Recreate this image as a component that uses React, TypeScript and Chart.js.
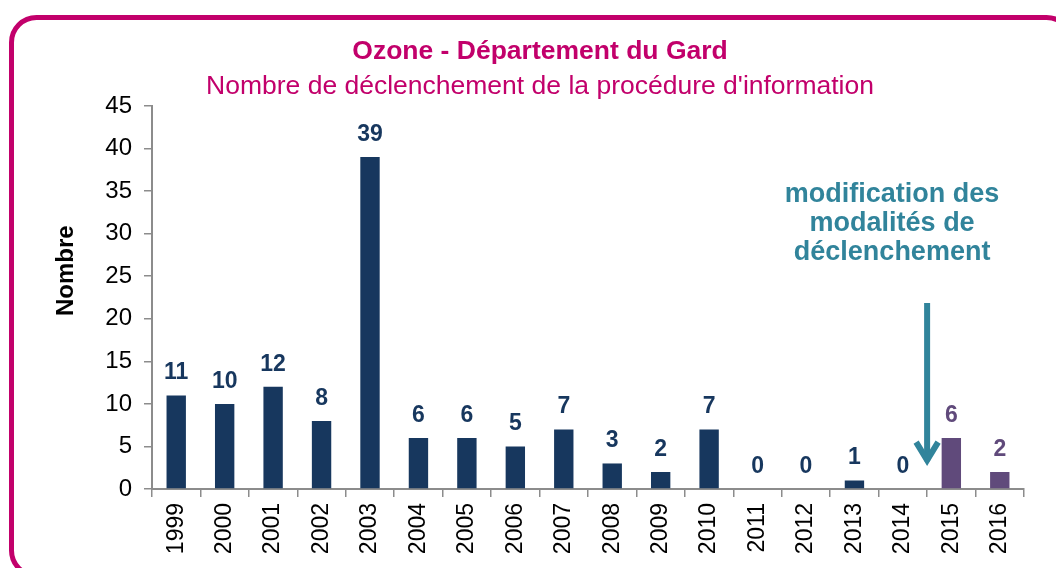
import { useEffect, useRef } from 'react';
import { Chart, registerables } from 'chart.js';

Chart.register(...registerables);

// ---- data ----
const years = ['1999', '2000', '2001', '2002', '2003', '2004', '2005', '2006', '2007', '2008', '2009', '2010', '2011', '2012', '2013', '2014', '2015', '2016'];
const counts = [11, 10, 12, 8, 39, 6, 6, 5, 7, 3, 2, 7, 0, 0, 1, 0, 6, 2];
// 0 = anciennes modalités, 1 = nouvelles modalités de déclenchement
const regime = [0, 0, 0, 0, 0, 0, 0, 0, 0, 0, 0, 0, 0, 0, 0, 0, 1, 1];
const regimeColors = ['#17375E', '#604A7B'];

const titleText = 'Ozone - Département du Gard';
const subtitleText = "Nombre de déclenchement de la procédure d'information";
const yAxisTitle = 'Nombre';
const noteLines = ['modification des', 'modalités de', 'déclenchement'];
const yMin = 0;
const yMax = 45;
const yStep = 5;

const FONT = '"Liberation Sans", Arial, Helvetica, sans-serif';
const MAGENTA = '#C2006B';
const TEAL = '#31849B';
const AXIS = '#8C8C8C';

const barColors = regime.map((r) => regimeColors[r]);

const framePlugin = {
  id: 'frame',
  beforeDraw(chart: any) {
    const ctx = chart.ctx;
    ctx.save();
    ctx.fillStyle = '#ffffff';
    ctx.fillRect(0, 0, chart.width, chart.height);
    ctx.strokeStyle = MAGENTA;
    ctx.lineWidth = 5;
    ctx.beginPath();
    (ctx as any).roundRect(11.5, 17.5, 1060, 558, 25);
    ctx.stroke();
    ctx.restore();
  },
};

const titlesPlugin = {
  id: 'titles',
  afterDraw(chart: any) {
    const ctx = chart.ctx;
    const ca = chart.chartArea;
    ctx.save();
    ctx.textAlign = 'center';
    ctx.textBaseline = 'alphabetic';
    ctx.fillStyle = MAGENTA;
    ctx.font = `bold 26.5px ${FONT}`;
    ctx.fillText(titleText, 540, 58.5);
    ctx.font = `26.5px ${FONT}`;
    ctx.fillText(subtitleText, 540, 93.5);
    // y axis title
    ctx.fillStyle = '#000000';
    ctx.font = `bold 24px ${FONT}`;
    ctx.textBaseline = 'middle';
    ctx.translate(66, ca.top + (ca.bottom - ca.top) * 0.43);
    ctx.rotate(-Math.PI / 2);
    ctx.fillText(yAxisTitle, 0, 0);
    ctx.restore();
  },
};

const valueLabelPlugin = {
  id: 'valueLabels',
  afterDatasetsDraw(chart: any) {
    const ctx = chart.ctx;
    const meta = chart.getDatasetMeta(0);
    ctx.save();
    ctx.font = `bold 23px ${FONT}`;
    ctx.textAlign = 'center';
    ctx.textBaseline = 'alphabetic';
    meta.data.forEach((bar: any, i: number) => {
      ctx.fillStyle = barColors[i];
      ctx.fillText(String(counts[i]), bar.x, bar.y - 16);
    });
    ctx.restore();
  },
};

const notePlugin = {
  id: 'note',
  afterDraw(chart: any) {
    const ctx = chart.ctx;
    const xs = chart.scales.x;
    const ys = chart.scales.y;
    const ax = (xs.getPixelForValue(15) + xs.getPixelForValue(16)) / 2;
    const yTop = ys.getPixelForValue(21.85);
    const yTip = ys.getPixelForValue(2.8);
    ctx.save();
    ctx.fillStyle = TEAL;
    ctx.font = `bold 27px ${FONT}`;
    ctx.textAlign = 'center';
    ctx.textBaseline = 'alphabetic';
    const base0 = ys.getPixelForValue(33.7);
    noteLines.forEach((line, i) => {
      ctx.fillText(line, ax - 35, base0 + i * 28.8);
    });
    ctx.strokeStyle = TEAL;
    ctx.lineWidth = 6;
    ctx.lineCap = 'butt';
    ctx.beginPath();
    ctx.moveTo(ax, yTop);
    ctx.lineTo(ax, yTip - 4);
    ctx.stroke();
    ctx.lineJoin = 'miter';
    ctx.beginPath();
    ctx.moveTo(ax - 11, yTip - 23);
    ctx.lineTo(ax, yTip - 5);
    ctx.lineTo(ax + 11, yTip - 23);
    ctx.stroke();
    ctx.restore();
  },
};

export default function App() {
  const canvasRef = useRef<HTMLCanvasElement | null>(null);

  useEffect(() => {
    const canvas = canvasRef.current;
    if (!canvas) return;
    const chart = new Chart(canvas, {
      type: 'bar',
      data: {
        labels: years,
        datasets: [
          {
            label: yAxisTitle,
            data: counts,
            backgroundColor: barColors,
            borderWidth: 0,
            categoryPercentage: 1,
            barPercentage: 0.4,
          },
        ],
      },
      options: {
        responsive: false,
        animation: false,
        events: [],
        layout: { padding: { left: 0, right: 32, top: 106, bottom: 0 } },
        plugins: {
          legend: { display: false },
          tooltip: { enabled: false },
          title: { display: false },
          subtitle: { display: false },
        },
        scales: {
          x: {
            afterFit(scale: any) {
              scale.height = 79;
            },
            grid: {
              display: true,
              offset: true,
              drawOnChartArea: false,
              drawTicks: true,
              tickLength: 8,
              color: AXIS,
              lineWidth: 1.5,
            },
            border: { display: true, color: AXIS, width: 2 },
            ticks: {
              color: '#000000',
              font: { family: FONT, size: 23 },
              minRotation: 90,
              maxRotation: 90,
              autoSkip: false,
              padding: 6,
            },
          },
          y: {
            min: yMin,
            max: yMax,
            afterFit(scale: any) {
              scale.width = 152;
            },
            grid: {
              display: true,
              drawOnChartArea: false,
              drawTicks: true,
              tickLength: 8,
              color: AXIS,
              lineWidth: 1.5,
            },
            border: { display: true, color: AXIS, width: 2 },
            ticks: {
              stepSize: yStep,
              color: '#000000',
              font: { family: FONT, size: 24 },
              padding: 12,
            },
          },
        },
      },
      plugins: [framePlugin, titlesPlugin, valueLabelPlugin, notePlugin],
    });
    return () => chart.destroy();
  }, []);

  return (
    <div style={{ position: 'fixed', left: 0, top: 0, width: 1056, height: 568, background: '#fff' }}>
      <canvas ref={canvasRef} width={1056} height={568} style={{ display: 'block', width: 1056, height: 568 }} />
    </div>
  );
}
